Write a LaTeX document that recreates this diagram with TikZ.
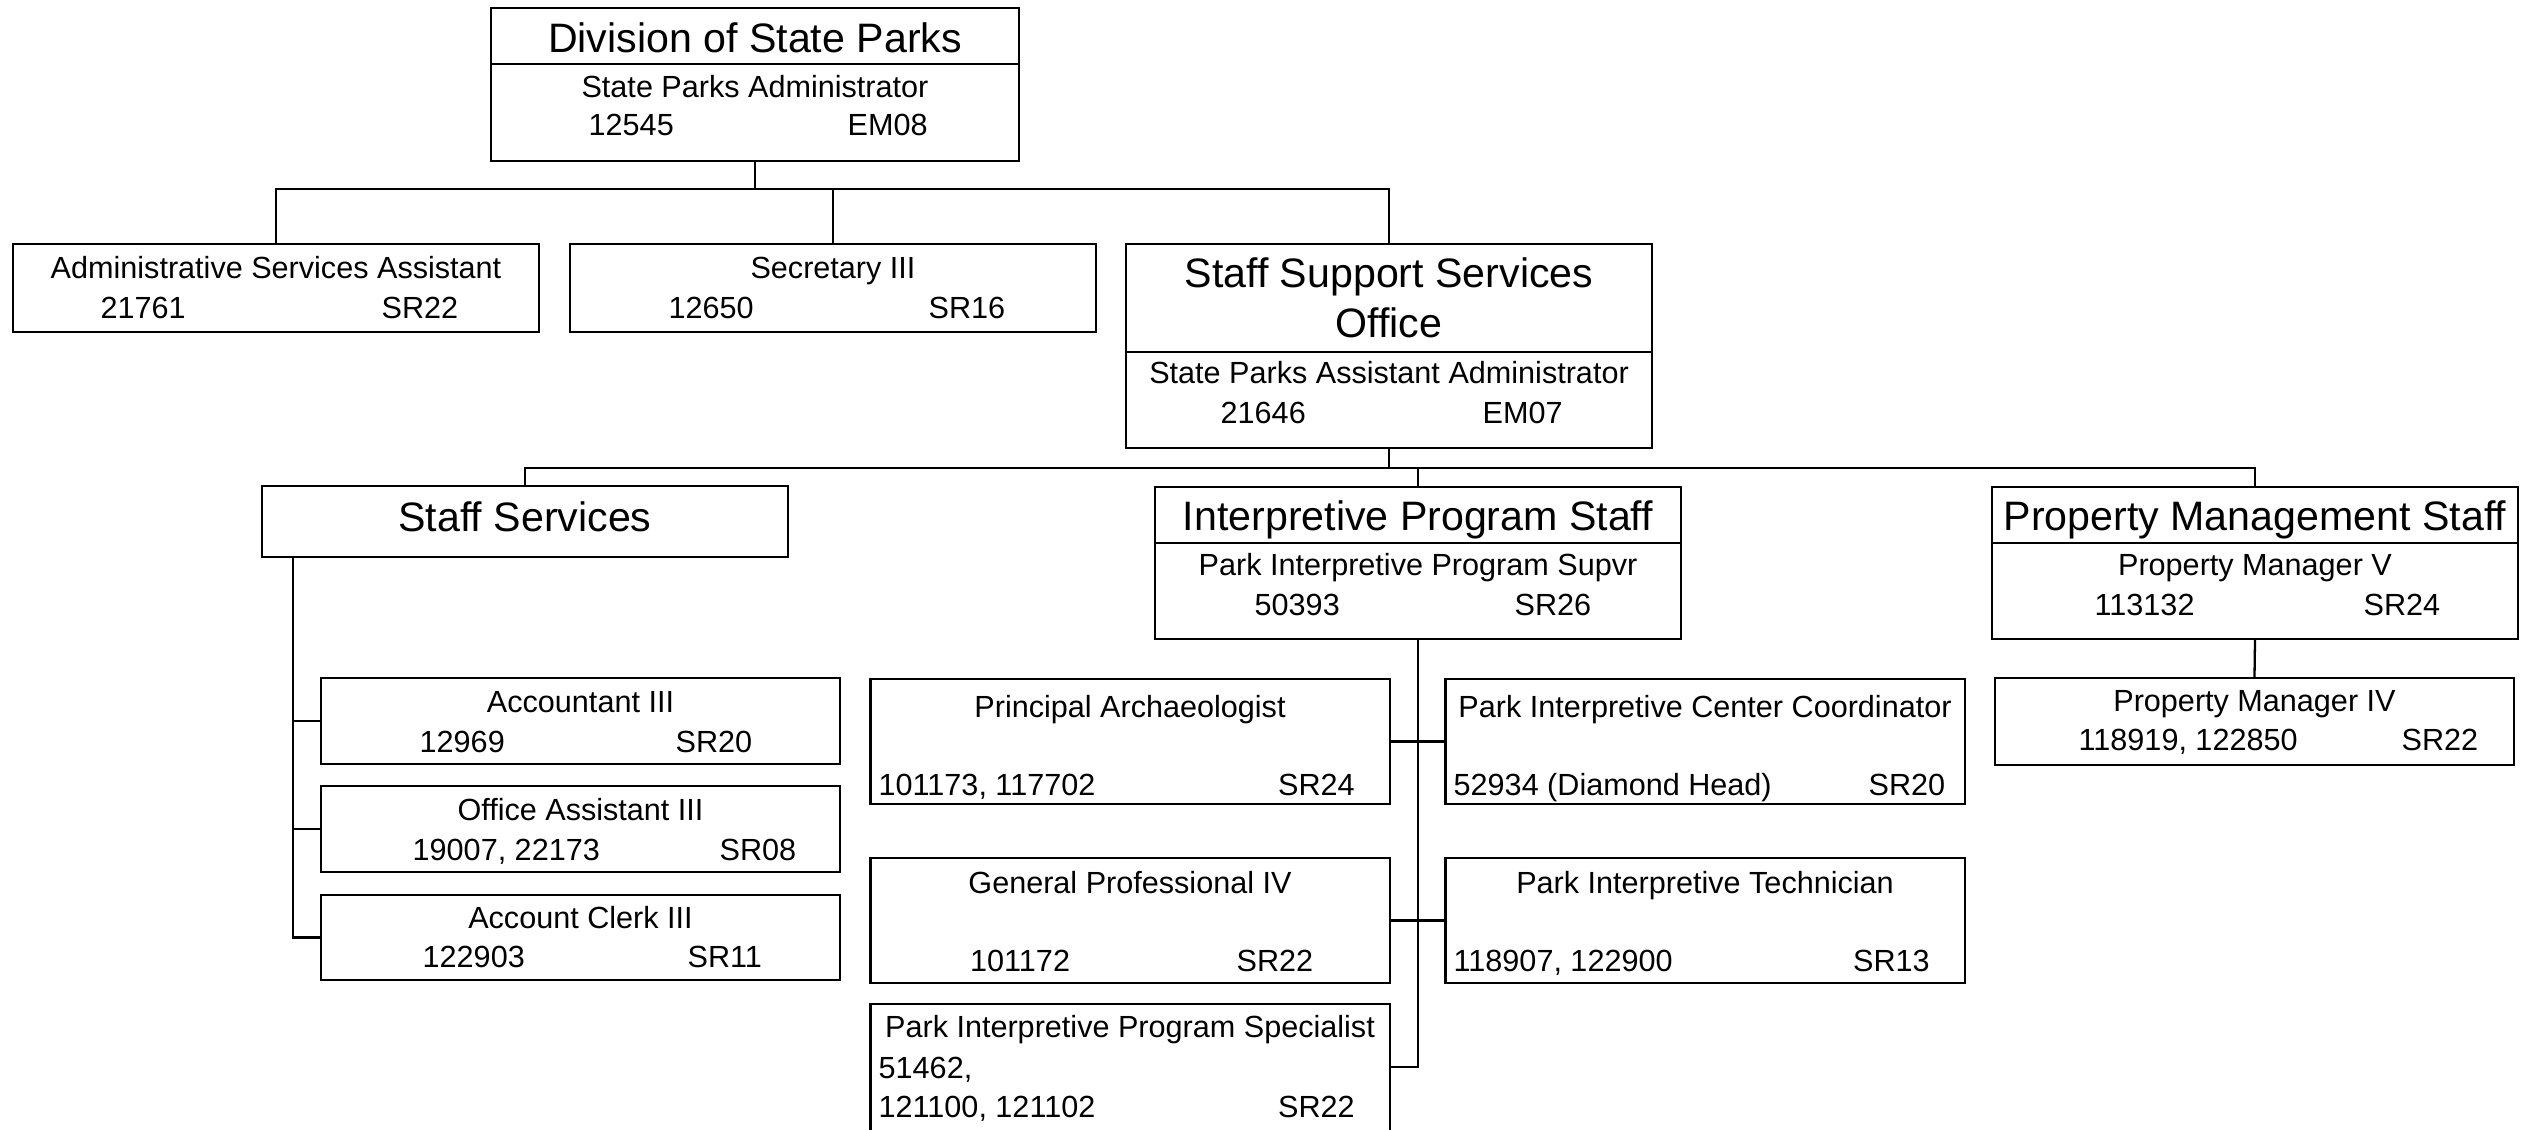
\documentclass[tikz,border=0pt]{standalone}
\usepackage{fontspec}
\setmainfont{Liberation Sans}
\usetikzlibrary{positioning,calc,fit}
\newcommand\hdrfont{\fontsize{11.7}{14}\selectfont}
\newcommand\txtfont{\fontsize{8.7}{10.5}\selectfont}
\tikzset{
  orgbox/.style={draw,line width=0.65pt,inner sep=0pt},
  link/.style={line width=0.65pt},
  hdr/.style={font=\hdrfont,anchor=base,inner sep=0pt},   % unit heading
  ttl/.style={font=\txtfont,anchor=base,inner sep=0pt},   % position title
  num/.style={font=\txtfont,anchor=base west,inner sep=0pt}, % numbers / grade
}
\begin{document}
\begin{tikzpicture}[x=0.01cm,y=-0.01cm]
  \clip (0,0) rectangle (2532,1129);
  % ---- top
  \node[orgbox,fit={(491,8)(1019,64)}] (dsp) {};
  \node[orgbox,fit={(491,64)(1019,161)}] (dspb) {};
  \node[hdr] (dspt) at (755,52) {Division of State Parks};
  \node[ttl] (dspj) at (755,97) {State Parks Administrator};
  \node[num] (dspn) at (588,135) {12545};
  \node[num] (dspg) at (847,135) {EM08};
  % ---- second row
  \node[orgbox,fit={(13,244)(539,332)}] (asa) {};
  \node[ttl] (asat) at (276,278) {Administrative Services Assistant};
  \node[num] (asan) at (100,318) {21761};
  \node[num] (asag) at (381,318) {SR22};
  \node[orgbox,fit={(570,244)(1096,332)}] (sec) {};
  \node[ttl] (sect) at (833,278) {Secretary III};
  \node[num] (secn) at (668,318) {12650};
  \node[num] (secg) at (928,318) {SR16};
  \node[orgbox,fit={(1126,244)(1652,352)}] (sso) {};
  \node[orgbox,fit={(1126,352)(1652,448)}] (ssob) {};
  \node[hdr] (ssot) at (1389,287) {Staff Support Services};
  \node[hdr] (ssot2) at (1389,337) {Office};
  \node[ttl] (ssoj) at (1389,383) {State Parks Assistant Administrator};
  \node[num] (sson) at (1220,423) {21646};
  \node[num] (ssog) at (1482,423) {EM07};
  \coordinate (j1) at (755,189);
  \draw[link] (dspb.south) -- (j1);
  \draw[link] (asa.north) |- (j1) -| (sso.north);
  \draw[link] (sec.north) -- (sec.north |- j1);
  % ---- third row
  \node[orgbox,fit={(262,486)(788,557)}] (ss) {};
  \node[hdr] (sst) at (525,531) {Staff Services};
  \node[orgbox,fit={(1155,487)(1681,543)}] (ips) {};
  \node[orgbox,fit={(1155,543)(1681,639)}] (ipsb) {};
  \node[hdr] (ipst) at (1418,530.5) {Interpretive Program Staff};
  \node[ttl] (ipsj) at (1418,575) {Park Interpretive Program Supvr};
  \node[num] (ipsn) at (1254,615) {50393};
  \node[num] (ipsg) at (1514,615) {SR26};
  \node[orgbox,fit={(1992,487)(2518,543)}] (pms) {};
  \node[orgbox,fit={(1992,543)(2518,639)}] (pmsb) {};
  \node[hdr] (pmst) at (2255,530.5) {Property Management Staff};
  \node[ttl] (pmsj) at (2255,575) {Property Manager V};
  \node[num] (pmsn) at (2094,615) {113132};
  \node[num] (pmsg) at (2363,615) {SR24};
  \coordinate (j2) at (1389,468);
  \draw[link] (ssob.south) -- (j2);
  \draw[link] (ss.north) |- (j2) -| (pms.north);
  \draw[link] (ips.north) -- (ips.north |- j2);
  % ---- property management
  \node[orgbox,fit={(1995,678)(2514,765)}] (pm4) {};
  \node[ttl] (pm4t) at (2254.5,711) {Property Manager IV};
  \node[num] (pm4n) at (2078,750) {118919, 122850};
  \node[num] (pm4g) at (2401,750) {SR22};
  \draw[link] (pmsb.south) -- (pm4.north);
  % ---- staff services
  \node[orgbox,fit={(321,678)(840,764)}] (acc) {};
  \node[ttl] (acct) at (580.5,712) {Accountant III};
  \node[num] (accn) at (419,752) {12969};
  \node[num] (accg) at (675,752) {SR20};
  \node[orgbox,fit={(321,786)(840,872)}] (oa) {};
  \node[ttl] (oat) at (580.5,820) {Office Assistant III};
  \node[num] (oan) at (412,860) {19007, 22173};
  \node[num] (oag) at (719,860) {SR08};
  \node[orgbox,fit={(321,895)(840,980)}] (ac) {};
  \node[ttl] (act) at (580.5,928.5) {Account Clerk III};
  \node[num] (acn) at (422,967) {122903};
  \node[num] (acg) at (687,967) {SR11};
  \coordinate (ssj) at (293,557);
  \foreach \b in {acc,oa,ac}
    \draw[link] (ssj) |- (\b.west);
  % ---- interpretive program
  \node[orgbox,fit={(870.5,679)(1390,804)}] (pa) {};
  \node[ttl] (pat) at (1130,717) {Principal Archaeologist};
  \node[num] (pan) at (878,795) {101173, 117702};
  \node[num] (pag) at (1277.5,795) {SR24};
  \node[orgbox,fit={(1445.5,679)(1965,804)}] (picc) {};
  \node[ttl] (picct) at (1705,717) {Park Interpretive Center Coordinator};
  \node[num] (piccn) at (1453,795) {52934 (Diamond Head)};
  \node[num] (piccg) at (1868,795) {SR20};
  \node[orgbox,fit={(870.5,858)(1390,983)}] (gp) {};
  \node[ttl] (gpt) at (1130,893) {General Professional IV};
  \node[num] (gpn) at (969.5,971.5) {101172};
  \node[num] (gpg) at (1236,971.5) {SR22};
  \node[orgbox,fit={(1445.5,858)(1965,983)}] (pit) {};
  \node[ttl] (pitt) at (1705,893) {Park Interpretive Technician};
  \node[num] (pitn) at (1453,971.5) {118907, 122900};
  \node[num] (pitg) at (1852.5,971.5) {SR13};
  \node[orgbox,fit={(870.5,1004)(1390,1140)}] (pips) {};
  \node[ttl] (pipst) at (1130,1037) {Park Interpretive Program Specialist};
  \node[num] (pipsn) at (878,1078) {51462,};
  \node[num] (pipsn2) at (878,1117) {121100, 121102};
  \node[num] (pipsg) at (1277.5,1117) {SR22};
  \coordinate (ipsj) at (1418,1067);
  \draw[link] (ipsb.south) -- (ipsj) -- (ipsj -| pips.east);
  \draw[link] (pa.east) -- (picc.west);
  \draw[link] (gp.east) -- (pit.west);
\end{tikzpicture}
\end{document}
